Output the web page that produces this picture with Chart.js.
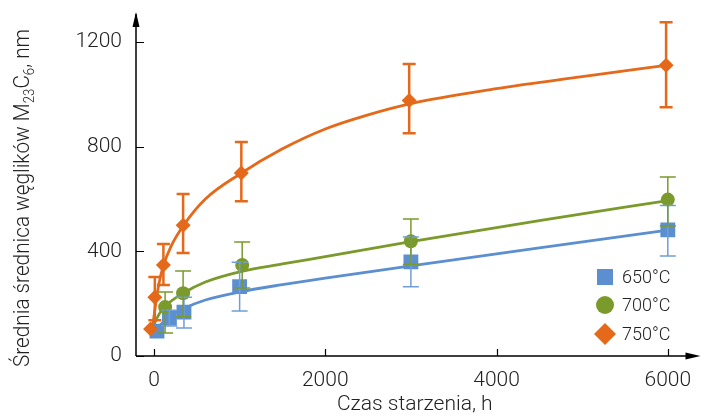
<!DOCTYPE html>
<html>
<head>
<meta charset="utf-8">
<script src="https://cdn.jsdelivr.net/npm/chart.js@4.4.1/dist/chart.umd.min.js"></script>
<style>
  html, body { margin: 0; padding: 0; background: #fff; }
  #wrap { width: 704px; height: 416px; }
</style>
</head>
<body>
<div id="wrap"><canvas id="chart"></canvas></div>
<script>
// series labels and colours
const temps = ['650°C', '700°C', '750°C'];
const colors = ['#5b8fd0', '#7b9a2c', '#e4691a'];

// measured points (time in h, mean size in nm) with error bar ends
const t650 = [35, 180, 350, 1000, 3000, 6000];
const d650 = [95, 145, 168, 265, 360, 482];
const lo650 = [null, 115, 107, 172, 265, 382];
const hi650 = [null, 175, 225, 358, 455, 575];

const t700 = [130, 340, 1030, 3000, 6000];
const d700 = [187, 240, 348, 439, 598];
const lo700 = [88, 150, 260, 350, 497];
const hi700 = [245, 325, 436, 524, 684];

const t750 = [-40, 10, 110, 340, 1020, 2980, 5980];
const d750 = [103, 225, 348, 500, 700, 977, 1112];
const lo750 = [null, 137, 271, 394, 592, 852, 951];
const hi750 = [null, 302, 428, 619, 818, 1116, 1276];

// trend curves
const fitT650 = [20, 180, 350, 600, 1000, 1500, 2000, 3000, 4500, 6000];
const fit650 = [100, 152, 182, 214, 245, 273, 298, 345, 413, 481];
const fitT700 = [-15, 60, 130, 340, 600, 1000, 1500, 2000, 3000, 4500, 6000];
const fit700 = [110, 160, 190, 240, 283, 322, 352, 380, 437, 518, 594];
const fitT750 = [-20, 20, 60, 110, 200, 340, 600, 1000, 1500, 2000, 2500, 3000, 4000, 5000, 6000];
const fit750 = [100, 200, 280, 345, 420, 497, 600, 695, 792, 868, 922, 965, 1022, 1068, 1112];

// axis ticks
const xTicks = [0, 2000, 4000, 6000];
const yTicks = [0, 400, 800, 1200];

const pts = (xs, ys) => xs.map((x, i) => ({ x: x, y: ys[i] }));

const bars = [
  { t: t650, lo: lo650, hi: hi650, color: '#6f9fd8', width: 1.5, cap: 8 },
  { t: t700, lo: lo700, hi: hi700, color: '#7b9a2c', width: 1.5, cap: 8 },
  { t: t750, lo: lo750, hi: hi750, color: '#e4691a', width: 2.5, cap: 6.5 }
];

Chart.defaults.font.family = 'Roboto, "DejaVu Sans", sans-serif';
Chart.defaults.font.weight = 300;
Chart.defaults.color = '#222';

const extras = {
  id: 'extras',
  afterDatasetsDraw(chart) {
    const ctx = chart.ctx, xs = chart.scales.x, ys = chart.scales.y;
    ctx.save();
    bars.forEach(b => {
      ctx.strokeStyle = b.color;
      ctx.lineWidth = b.width;
      b.t.forEach((t, i) => {
        if (b.lo[i] == null) return;
        const px = xs.getPixelForValue(t);
        const y1 = ys.getPixelForValue(b.lo[i]);
        const y2 = ys.getPixelForValue(b.hi[i]);
        ctx.beginPath();
        ctx.moveTo(px, y1); ctx.lineTo(px, y2);
        ctx.moveTo(px - b.cap, y1); ctx.lineTo(px + b.cap, y1);
        ctx.moveTo(px - b.cap, y2); ctx.lineTo(px + b.cap, y2);
        ctx.stroke();
      });
    });
    ctx.restore();
  },
  afterDraw(chart) {
    const ctx = chart.ctx, a = chart.chartArea;
    const xs = chart.scales.x, ys = chart.scales.y;
    ctx.save();
    // axes with arrows
    ctx.strokeStyle = '#000';
    ctx.fillStyle = '#000';
    ctx.lineWidth = 1.5;
    ctx.beginPath();
    ctx.moveTo(a.left, a.bottom); ctx.lineTo(a.left, a.top - 2);
    ctx.moveTo(a.left, a.bottom); ctx.lineTo(a.right, a.bottom);
    ctx.stroke();
    ctx.beginPath();
    ctx.moveTo(a.left, a.top - 4); ctx.lineTo(a.left - 3.5, a.top + 11); ctx.lineTo(a.left + 3.5, a.top + 11);
    ctx.closePath(); ctx.fill();
    ctx.beginPath();
    ctx.moveTo(a.right + 7, a.bottom); ctx.lineTo(a.right - 8, a.bottom - 3.5); ctx.lineTo(a.right - 8, a.bottom + 3.5);
    ctx.closePath(); ctx.fill();
    // inward tick marks
    ctx.lineWidth = 1.2;
    ctx.beginPath();
    xTicks.forEach(v => {
      const px = Math.round(xs.getPixelForValue(v)) + 0.5;
      ctx.moveTo(px, a.bottom); ctx.lineTo(px, a.bottom - 7);
    });
    yTicks.forEach(v => {
      const py = Math.round(ys.getPixelForValue(v)) + 0.5;
      ctx.moveTo(a.left, py); ctx.lineTo(a.left + 8, py);
    });
    ctx.stroke();

    // legend
    const lx = 605, ly = [277, 305, 334];
    ctx.fillStyle = colors[0];
    ctx.fillRect(lx - 8, ly[0] - 8, 16, 16);
    ctx.fillStyle = colors[1];
    ctx.beginPath(); ctx.arc(lx, ly[1], 9, 0, Math.PI * 2); ctx.fill();
    ctx.fillStyle = colors[2];
    ctx.beginPath();
    ctx.moveTo(lx, ly[2] - 11); ctx.lineTo(lx + 11, ly[2]); ctx.lineTo(lx, ly[2] + 11); ctx.lineTo(lx - 11, ly[2]);
    ctx.closePath(); ctx.fill();
    ctx.fillStyle = '#222';
    ctx.font = '300 18px Roboto, "DejaVu Sans", sans-serif';
    ctx.textAlign = 'left';
    ctx.textBaseline = 'middle';
    temps.forEach((t, i) => ctx.fillText(t, 622, ly[i] + 1));

    // y axis title with subscripts
    const parts = [
      ['Średnia średnica węglików M', 22, 0],
      ['23', 14, 5],
      ['C', 22, 0],
      ['6', 14, 5],
      [', nm', 22, 0]
    ];
    let total = 0;
    parts.forEach(p => {
      ctx.font = '300 ' + p[1] + 'px Roboto, "DejaVu Sans", sans-serif';
      p.push(ctx.measureText(p[0]).width);
      total += p[3];
    });
    const sx = 338 / total;
    ctx.translate(21, 198);
    ctx.rotate(-Math.PI / 2);
    ctx.scale(sx, 1);
    ctx.textBaseline = 'alphabetic';
    let cx = -total / 2;
    parts.forEach(p => {
      ctx.font = '300 ' + p[1] + 'px Roboto, "DejaVu Sans", sans-serif';
      ctx.fillText(p[0], cx, 8 + p[2]);
      cx += p[3];
    });
    ctx.restore();
  }
};

new Chart(document.getElementById('chart'), {
  type: 'scatter',
  data: {
    datasets: [
      { type: 'scatter', label: temps[0], data: pts(t650, d650), pointStyle: 'rect', pointRadius: 10.5,
        backgroundColor: colors[0], borderWidth: 0, order: 3 },
      { type: 'scatter', label: temps[1], data: pts(t700, d700), pointStyle: 'circle', pointRadius: 7,
        backgroundColor: colors[1], borderWidth: 0, order: 2 },
      { type: 'scatter', label: temps[2], data: pts(t750, d750), pointStyle: 'rectRot', pointRadius: 7.5,
        backgroundColor: colors[2], borderWidth: 0, order: 1 },
      { type: 'line', data: pts(fitT650, fit650), borderColor: colors[0], borderWidth: 2.8,
        pointRadius: 0, cubicInterpolationMode: 'monotone', order: 6 },
      { type: 'line', data: pts(fitT700, fit700), borderColor: colors[1], borderWidth: 2.8,
        pointRadius: 0, cubicInterpolationMode: 'monotone', order: 5 },
      { type: 'line', data: pts(fitT750, fit750), borderColor: colors[2], borderWidth: 2.8,
        pointRadius: 0, cubicInterpolationMode: 'monotone', order: 4 }
    ]
  },
  options: {
    responsive: true,
    maintainAspectRatio: false,
    animation: false,
    layout: { padding: { top: 16, right: 8, left: 0, bottom: 0 } },
    plugins: {
      legend: { display: false },
      tooltip: { enabled: false }
    },
    scales: {
      x: {
        type: 'linear', min: -210, max: 6300,
        grid: { display: false, drawTicks: false },
        border: { display: false },
        afterBuildTicks: s => { s.ticks = xTicks.map(v => ({ value: v })); },
        afterFit: s => { s.height = 60; s.paddingLeft = 0; s.paddingRight = 0; },
        ticks: { font: { size: 21 }, padding: 12, maxRotation: 0, callback: v => String(v) },
        title: { display: true, text: 'Czas starzenia, h', font: { size: 21, lineHeight: 1 }, padding: { top: 0, bottom: 1 } }
      },
      y: {
        type: 'linear', min: 0, max: 1300,
        grid: { display: false, drawTicks: false },
        border: { display: false },
        afterBuildTicks: s => { s.ticks = yTicks.map(v => ({ value: v })); },
        afterFit: s => { s.width = 136; s.paddingTop = 0; s.paddingBottom = 0; },
        ticks: { font: { size: 21 }, padding: 14, callback: v => String(v) }
      }
    }
  },
  plugins: [extras]
});
</script>
</body>
</html>
